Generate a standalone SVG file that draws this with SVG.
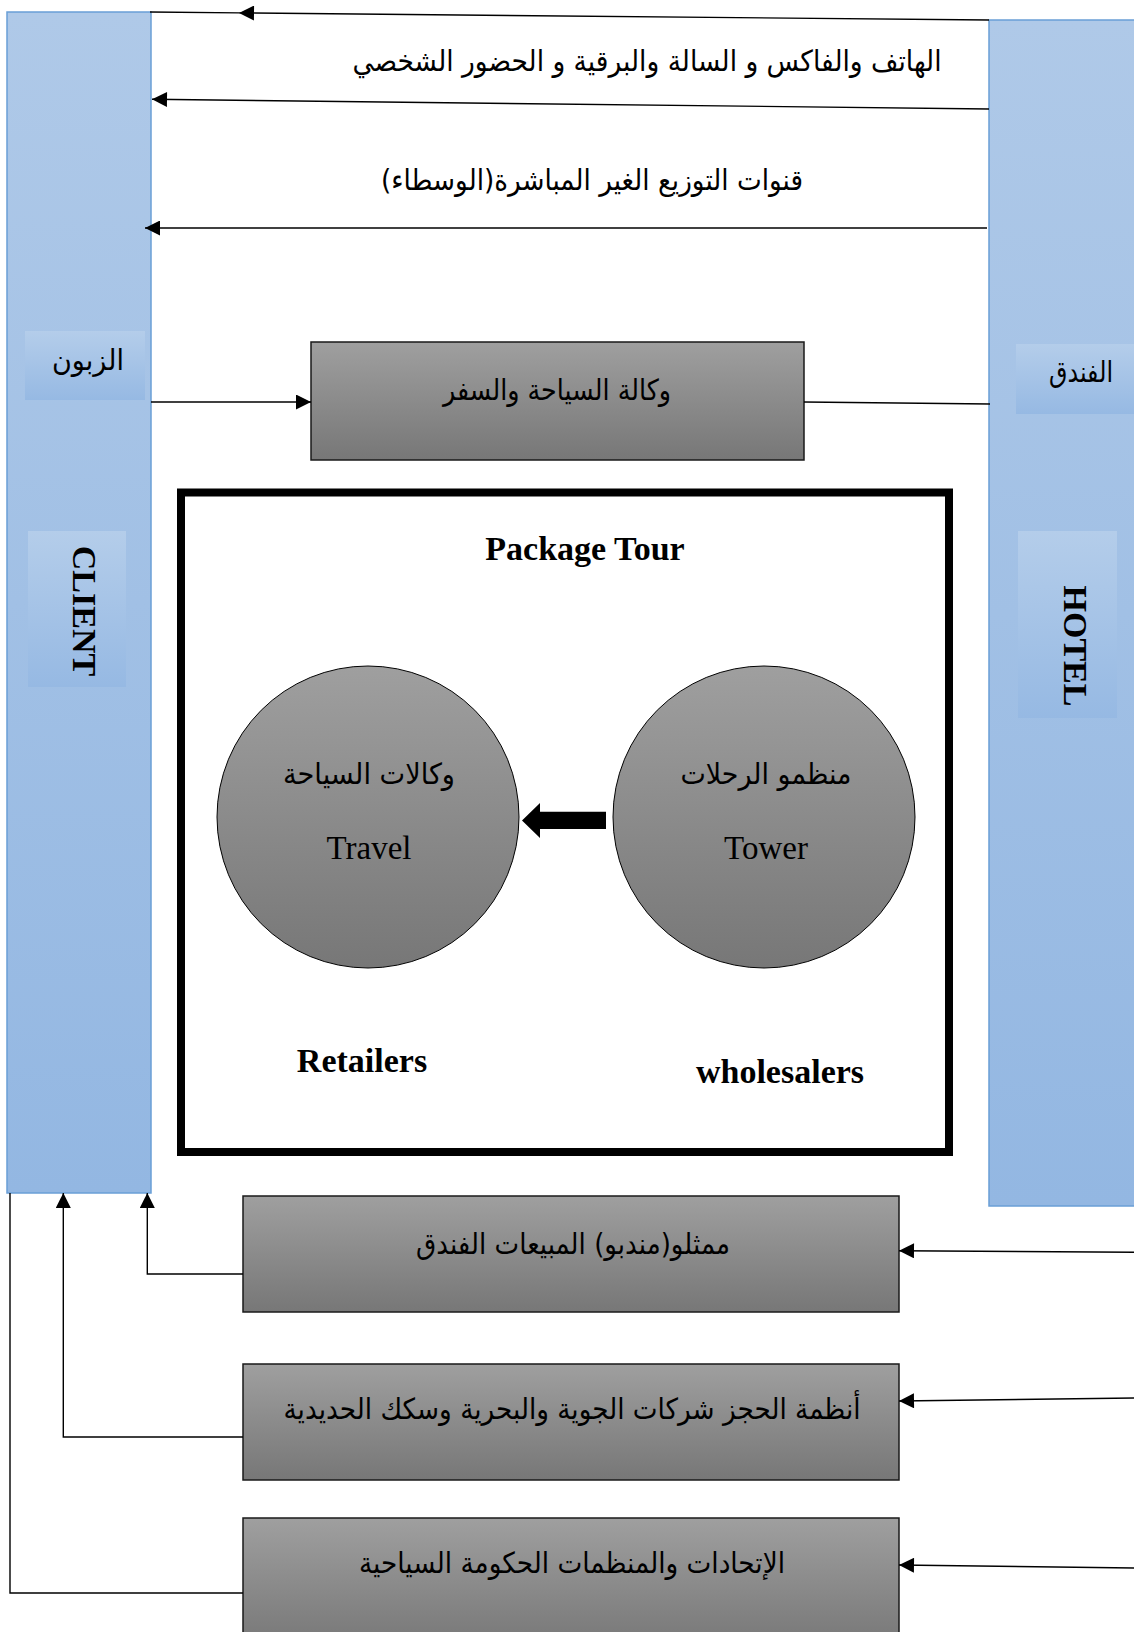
<svg xmlns="http://www.w3.org/2000/svg" width="1134" height="1632" viewBox="0 0 1134 1632">
  <defs>
    <linearGradient id="gBlue" x1="0" y1="0" x2="0" y2="1">
      <stop offset="0" stop-color="#afc9e8"/>
      <stop offset="1" stop-color="#93b7e2"/>
    </linearGradient>
    <linearGradient id="gTag" x1="0" y1="0" x2="0" y2="1">
      <stop offset="0" stop-color="#b4cdea"/>
      <stop offset="1" stop-color="#96b9e3"/>
    </linearGradient>
    <linearGradient id="gGray" x1="0" y1="0" x2="0" y2="1">
      <stop offset="0" stop-color="#9f9f9f"/>
      <stop offset="1" stop-color="#777777"/>
    </linearGradient>
    <marker id="head" viewBox="0 0 16 16" refX="16" refY="8" markerWidth="16" markerHeight="15" markerUnits="userSpaceOnUse" orient="auto">
      <path d="M0,0 L16,8 L0,16 z" fill="#000"/>
    </marker>
    <style>
      .col { fill: url(#gBlue); stroke: #6a9fd6; stroke-width: 1.5; }
      .tag { fill: url(#gTag); stroke: none; }
      .box { fill: url(#gGray); stroke: #1a1a1a; stroke-width: 1.5; }
      .disc { fill: url(#gGray); stroke: #000; stroke-width: 1; }
      .ln { fill: none; stroke: #000; stroke-width: 1.4; }
      .lnA { fill: none; stroke: #000; stroke-width: 1.4; marker-end: url(#head); }
      .ar { font-family: "DejaVu Sans", sans-serif; font-size: 29px; fill: #000; text-anchor: middle; direction: rtl; }
      .lat { font-family: "Liberation Serif", serif; fill: #000; text-anchor: middle; }
      .bold { font-weight: bold; font-size: 34px; }
    </style>
  </defs>

  <!-- side columns -->
  <g id="client">
    <rect class="col" x="7" y="12" width="144" height="1181"/>
    <rect class="tag" x="25" y="331" width="120" height="69"/>
    <text class="ar" x="88" y="370" textLength="72" lengthAdjust="spacingAndGlyphs">الزبون</text>
    <rect class="tag" x="28" y="531" width="98" height="156"/>
    <text class="lat bold" transform="translate(73,611) rotate(90)">CLIENT</text>
  </g>
  <g id="hotel">
    <rect class="col" x="989" y="20" width="160" height="1186"/>
    <rect class="tag" x="1016" y="344" width="130" height="70"/>
    <text class="ar" x="1081" y="382" textLength="64" lengthAdjust="spacingAndGlyphs">الفندق</text>
    <rect class="tag" x="1018" y="531" width="99" height="187"/>
    <text class="lat bold" transform="translate(1064,646) rotate(90)">HOTEL</text>
  </g>

  <!-- channel captions -->
  <g id="direct-label">
    <text class="ar" x="647" y="71" textLength="589" lengthAdjust="spacingAndGlyphs">الهاتف والفاكس و السالة والبرقية و الحضور الشخصي</text>
  </g>
  <g id="indirect-label">
    <text class="ar" x="592" y="190" textLength="422" lengthAdjust="spacingAndGlyphs">قنوات التوزيع الغير المباشرة(الوسطاء)</text>
  </g>

  <!-- travel agency -->
  <g id="agency">
    <rect class="box" x="311" y="342" width="493" height="118"/>
    <text class="ar" x="557" y="400" textLength="228" lengthAdjust="spacingAndGlyphs">وكالة السياحة والسفر</text>
  </g>

  <!-- package tour frame -->
  <g id="package">
    <rect x="181" y="492.5" width="768" height="659.5" fill="none" stroke="#000" stroke-width="8"/>
    <text class="lat bold" x="585" y="560">Package Tour</text>
    <text class="lat bold" x="362" y="1072">Retailers</text>
    <text class="lat bold" x="780" y="1083">wholesalers</text>
  </g>
  <g id="retailers">
    <circle class="disc" cx="368" cy="817" r="151"/>
    <text class="ar" x="369" y="784" font-size="30" textLength="172" lengthAdjust="spacingAndGlyphs">وكالات السياحة</text>
    <text class="lat" x="369" y="859" font-size="33">Travel</text>
  </g>
  <g id="wholesalers">
    <circle class="disc" cx="764" cy="817" r="151"/>
    <text class="ar" x="766" y="784" font-size="30" textLength="171" lengthAdjust="spacingAndGlyphs">منظمو الرحلات</text>
    <text class="lat" x="766" y="859" font-size="33">Tower</text>
  </g>

  <!-- lower intermediaries -->
  <g id="sales-reps">
    <rect class="box" x="243" y="1196" width="656" height="116"/>
    <text class="ar" x="573" y="1254" textLength="314" lengthAdjust="spacingAndGlyphs">ممثلو(مندبو) المبيعات الفندق</text>
  </g>
  <g id="booking-systems">
    <rect class="box" x="243" y="1364" width="656" height="116"/>
    <text class="ar" x="572" y="1419" textLength="577" lengthAdjust="spacingAndGlyphs">أنظمة الحجز شركات الجوية والبحرية وسكك الحديدية</text>
  </g>
  <g id="associations">
    <rect class="box" x="243" y="1518" width="656" height="130"/>
    <text class="ar" x="572" y="1573" textLength="426" lengthAdjust="spacingAndGlyphs">الإتحادات والمنظمات الحكومة السياحية</text>
  </g>

  <!-- connectors -->
  <g id="connectors">
    <path class="lnA" d="M989,20 L239,12.9"/>
    <path class="ln" d="M239,12.9 L150,12"/>
    <path class="lnA" d="M989,109 L152,99.3"/>
    <path class="lnA" d="M987,228 L145,228"/>
    <path class="lnA" d="M151,402 L311,402"/>
    <path class="ln" d="M804,402 L990,404"/>
    <polygon points="522,820.5 540,803 540,811.7 606,811.7 606,829 540,829 540,838" fill="#000"/>
    <path class="lnA" d="M243,1274 H147.3 V1193"/>
    <path class="lnA" d="M243,1437 H63.3 V1193"/>
    <path class="ln" d="M243,1593 H10 V1193"/>
    <path class="lnA" d="M1134,1252.3 L899,1250.7"/>
    <path class="lnA" d="M1134,1398 L899,1401"/>
    <path class="lnA" d="M1134,1568 L899,1565"/>
  </g>
</svg>
